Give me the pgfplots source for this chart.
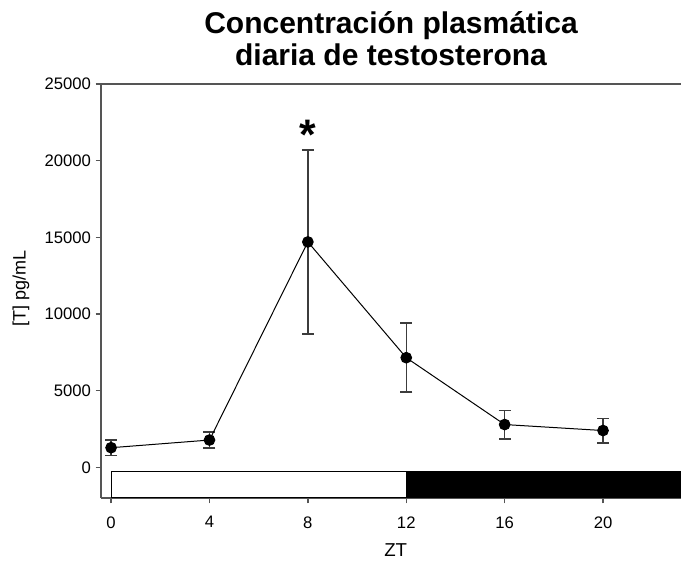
\documentclass[border=0pt]{standalone}
\usepackage{fontspec}
\setmainfont{Liberation Sans}
\usepackage{pgfplots}
\pgfplotsset{compat=1.18}
\definecolor{axgray}{RGB}{85,85,85}
\definecolor{errgray}{RGB}{60,60,60}
\begin{document}
\begin{tikzpicture}
\begin{axis}[
  name=ax,
  scale only axis, width=435pt, height=310.5pt,
  xmin=-0.41, xmax=23.17, ymin=-2000, ymax=25000,
  axis x line*=bottom, axis y line*=left,
  axis line style={axgray, line width=1.1pt},
  xtick={0,4,8,12,16,20}, ytick={0,5000,10000,15000,20000,25000},
  scaled y ticks=false,
  tick align=outside, major tick length=4pt,
  tick style={axgray, line width=1.1pt},
  /pgf/number format/1000 sep={},
  /pgf/number format/assume math mode=true,
  every tick label/.append style={font=\fontsize{12.5}{13}\selectfont},
  xticklabel style={anchor=center, yshift=-14.2pt},
  clip=false,
]
% light / dark bar
\addplot[draw=black, fill=white, line width=0.75pt] coordinates {(0,-260) (12,-260) (12,-2000) (0,-2000)} -- cycle;
\addplot[draw=black, fill=black, line width=0.75pt] coordinates {(12,-260) (23.17,-260) (23.17,-2000) (12,-2000)} -- cycle;
% error bars
\addplot[draw=none, mark=none, error bars/.cd, y dir=both, y explicit,
  error bar style={errgray, line width=1.1pt},
  error mark options={errgray, rotate=90, mark size=4.5pt, line width=1.1pt}]
  coordinates {
  (0,1280) +- (0,510)
  (4,1780) +- (0,520)
  (8,14700) +- (0,6000)
  (12,7150) +- (0,2250)
  (16,2790) +- (0,930)
  (20,2400) +- (0,800)
  };
% mean line
\addplot[black, line width=0.75pt, mark=*, mark size=4pt, mark options={fill=black}]
  coordinates {(0,1280) (4,1780) (8,14700) (12,7150) (16,2790) (20,2400)};
\node[font=\fontsize{32}{32}\bfseries\selectfont] at (axis cs:8,21700) {*};
\draw[axgray, line width=1.1pt] (rel axis cs:0,1) -- (rel axis cs:1,1);
\end{axis}
\node[anchor=base, font=\fontsize{22.5}{24}\bfseries\selectfont] at ([yshift=37.5pt]ax.north) {Concentración plasmática};
\node[anchor=base, font=\fontsize{22.5}{24}\bfseries\selectfont] at ([yshift=13.9pt]ax.north) {diaria de testosterona};
\node[rotate=90, font=\fontsize{13.5}{15}\selectfont] at ([xshift=-60pt,yshift=2pt]ax.west) {[T] pg/mL};
\node[font=\fontsize{14}{15}\selectfont] at ([xshift=3.5pt,yshift=-39pt]ax.south) {ZT};
\pgfresetboundingbox
\path[use as bounding box] ([shift={(-75.75pt,-48.75pt)}]ax.south west) rectangle ([shift={(0pt,63pt)}]ax.north east);
\end{tikzpicture}
\end{document}
